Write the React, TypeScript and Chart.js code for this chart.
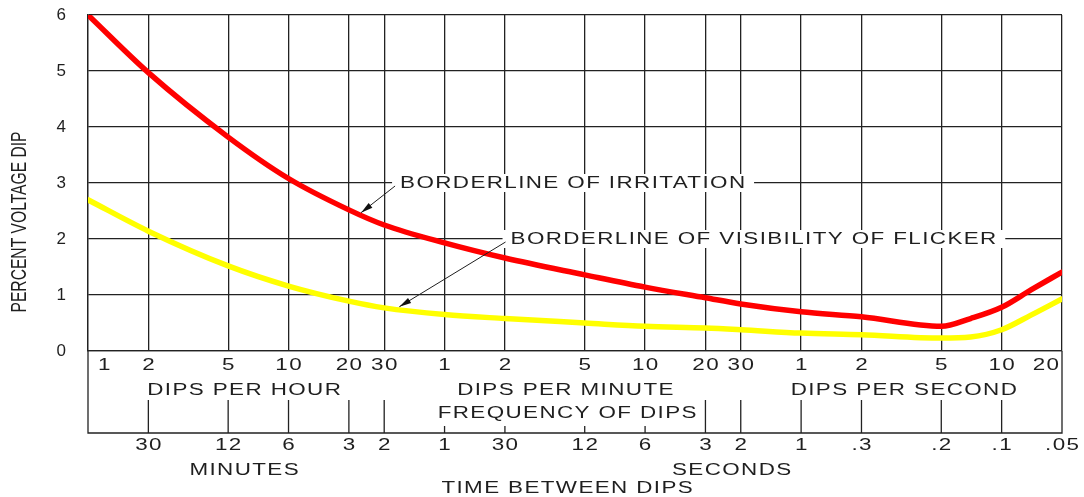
import React, { useEffect, useRef } from "react";
import { Chart, registerables } from "chart.js";

Chart.register(...registerables);

// Frequency of dips, expressed in dips per hour (log axis)
const FREQ_TICKS = [1, 2, 5, 10, 20, 30, 60, 120, 300, 600, 1200, 1800, 3600, 7200, 18000, 36000, 72000];
const FREQ_LABELS = ["1", "2", "5", "10", "20", "30", "1", "2", "5", "10", "20", "30", "1", "2", "5", "10", "20"];
const TIME_LABELS = ["", "30", "12", "6", "3", "2", "1", "30", "12", "6", "3", "2", "1", ".3", ".2", ".1", ".05"];

const CURVE_FREQ = [1, 2, 5, 10, 20, 30, 60, 120, 300, 600, 1200, 1800, 3600, 7200, 18000, 25200, 36000, 50400, 72000];
const IRRITATION = [6.0, 4.97, 3.82, 3.08, 2.52, 2.25, 1.93, 1.66, 1.36, 1.14, 0.95, 0.84, 0.7, 0.61, 0.44, 0.58, 0.78, 1.09, 1.41];
const VISIBILITY = [2.7, 2.14, 1.52, 1.16, 0.89, 0.77, 0.65, 0.58, 0.5, 0.44, 0.41, 0.38, 0.32, 0.29, 0.23, 0.25, 0.38, 0.64, 0.93];

const Y_MIN = 0;
const Y_MAX = 6;

const FREQ_GROUP_LABELS = ["DIPS PER HOUR", "DIPS PER MINUTE", "DIPS PER SECOND"];
const FREQ_GROUP_AT = [6, 240, 11700];
const TIME_GROUP_LABELS = ["MINUTES", "SECONDS"];
const TIME_GROUP_AT = [6, 1620];
const FREQ_TITLE = "FREQUENCY OF DIPS";
const TIME_TITLE = "TIME BETWEEN DIPS";
const TITLE_AT = 245;
const Y_TITLE = "PERCENT VOLTAGE DIP";

const NOTE_TEXTS = ["BORDERLINE OF IRRITATION", "BORDERLINE OF VISIBILITY OF FLICKER"];
const NOTE_AT = [[36, 3], [128, 2]];
const NOTE_TIP = [[23, 2.47], [35.7, 0.79]];

const FONT = '"Liberation Sans", Arial, sans-serif';
const INK = "#1f1f1f";
const GRID = "#222222";
const STRETCH = 1.4;
const SPACING = 1;

function wideText(ctx: CanvasRenderingContext2D, text: string, x: number, y: number, align: CanvasTextAlign) {
  ctx.save();
  ctx.translate(x, y);
  ctx.scale(STRETCH, 1);
  (ctx as any).letterSpacing = SPACING + "px";
  ctx.textAlign = align;
  ctx.textBaseline = "middle";
  const adj = align === "center" ? SPACING / 2 : align === "right" ? SPACING : 0;
  ctx.fillText(text, adj, 0);
  ctx.restore();
}

function wideWidth(ctx: CanvasRenderingContext2D, text: string) {
  ctx.save();
  (ctx as any).letterSpacing = SPACING + "px";
  const w = ctx.measureText(text).width;
  ctx.restore();
  return (w - SPACING) * STRETCH;
}

const flickerPlugin = {
  id: "flickerLayout",
  beforeDatasetsDraw(chart: any) {
    const ctx: CanvasRenderingContext2D = chart.ctx;
    const xs = chart.scales.x;
    const ys = chart.scales.y;
    ctx.save();
    ctx.font = `16px ${FONT}`;
    NOTE_TEXTS.forEach((t, i) => {
      const tx = xs.getPixelForValue(NOTE_AT[i][0]);
      const ty = ys.getPixelForValue(NOTE_AT[i][1]);
      const w = wideWidth(ctx, t);
      ctx.fillStyle = "#ffffff";
      ctx.fillRect(tx - 8, ty - 9, w + 17, 18);
      ctx.fillStyle = INK;
      wideText(ctx, t, tx, ty + 1, "left");
    });
    ctx.restore();
  },
  afterDatasetsDraw(chart: any) {
    const ctx: CanvasRenderingContext2D = chart.ctx;
    const xs = chart.scales.x;
    const ys = chart.scales.y;
    ctx.save();
    NOTE_TEXTS.forEach((_t, i) => {
      const sx = xs.getPixelForValue(NOTE_AT[i][0]) - 5;
      const sy = ys.getPixelForValue(NOTE_AT[i][1]) + 3;
      const px = xs.getPixelForValue(NOTE_TIP[i][0]);
      const py = ys.getPixelForValue(NOTE_TIP[i][1]);
      ctx.strokeStyle = INK;
      ctx.lineWidth = 1;
      ctx.beginPath();
      ctx.moveTo(sx, sy);
      ctx.lineTo(px, py);
      ctx.stroke();
      const a = Math.atan2(py - sy, px - sx);
      const L = 12;
      const W = 3;
      ctx.beginPath();
      ctx.moveTo(px, py);
      ctx.lineTo(px - L * Math.cos(a) + W * Math.sin(a), py - L * Math.sin(a) - W * Math.cos(a));
      ctx.lineTo(px - L * Math.cos(a) - W * Math.sin(a), py - L * Math.sin(a) + W * Math.cos(a));
      ctx.closePath();
      ctx.fillStyle = "#111";
      ctx.fill();
    });
    ctx.restore();
  },
  afterDraw(chart: any) {
    const ctx: CanvasRenderingContext2D = chart.ctx;
    const xs = chart.scales.x;
    const { left, right, top, bottom } = chart.chartArea;
    const boxBottom = bottom + 82;
    ctx.save();
    ctx.strokeStyle = GRID;
    ctx.lineWidth = 1.3;
    ctx.beginPath();
    ctx.moveTo(left, bottom);
    ctx.lineTo(left, boxBottom);
    ctx.lineTo(right, boxBottom);
    ctx.lineTo(right, bottom);
    ctx.stroke();

    ctx.font = `16px ${FONT}`;
    ctx.fillStyle = INK;

    // Row 1: frequency values
    const last = FREQ_TICKS.length - 1;
    FREQ_TICKS.forEach((f, i) => {
      const px = xs.getPixelForValue(f);
      if (i === 0) wideText(ctx, FREQ_LABELS[i], px + 10, bottom + 15, "left");
      else if (i === last) wideText(ctx, FREQ_LABELS[i], px - 3, bottom + 15, "right");
      else wideText(ctx, FREQ_LABELS[i], px, bottom + 15, "center");
    });
    // Row 2: group labels
    FREQ_GROUP_LABELS.forEach((t, i) => {
      wideText(ctx, t, xs.getPixelForValue(FREQ_GROUP_AT[i]), bottom + 40, "center");
    });
    // Row 3: axis title
    const cx = xs.getPixelForValue(TITLE_AT);
    wideText(ctx, FREQ_TITLE, cx, bottom + 63, "center");
    const fw = wideWidth(ctx, FREQ_TITLE);
    const fl = cx - fw / 2 - 6;
    const fr = cx + fw / 2 + 6;

    // Ticks rising from the lower line
    ctx.beginPath();
    FREQ_TICKS.forEach((f, i) => {
      if (i === 0 || i === last) return;
      const px = xs.getPixelForValue(f);
      const short = px > fl && px < fr;
      ctx.moveTo(px, boxBottom);
      ctx.lineTo(px, short ? boxBottom - 7 : bottom + 49);
    });
    ctx.stroke();

    // Time between dips labels
    FREQ_TICKS.forEach((f, i) => {
      if (!TIME_LABELS[i]) return;
      wideText(ctx, TIME_LABELS[i], xs.getPixelForValue(f), boxBottom + 13, "center");
    });
    TIME_GROUP_LABELS.forEach((t, i) => {
      wideText(ctx, t, xs.getPixelForValue(TIME_GROUP_AT[i]), boxBottom + 38, "center");
    });
    wideText(ctx, TIME_TITLE, cx, boxBottom + 56, "center");

    // Y axis title (condensed, rotated)
    ctx.font = `22px ${FONT}`;
    const tw = ctx.measureText(Y_TITLE).width;
    ctx.translate(20, top + 207);
    ctx.rotate(-Math.PI / 2);
    ctx.scale(181 / tw, 1);
    ctx.textAlign = "center";
    ctx.textBaseline = "middle";
    ctx.fillText(Y_TITLE, 0, 0);
    ctx.restore();
  },
};

export default function App() {
  const ref = useRef<HTMLCanvasElement>(null);
  useEffect(() => {
    const canvas = ref.current;
    if (!canvas) return;
    const chart = new Chart(canvas, {
      type: "line",
      data: {
        datasets: [
          {
            label: "Borderline of irritation",
            data: CURVE_FREQ.map((f, i) => ({ x: f, y: IRRITATION[i] })),
            borderColor: "#ff0000",
            borderWidth: 5.5,
            pointRadius: 0,
            cubicInterpolationMode: "monotone",
            borderCapStyle: "round",
            fill: false,
          },
          {
            label: "Borderline of visibility of flicker",
            data: CURVE_FREQ.map((f, i) => ({ x: f, y: VISIBILITY[i] })),
            borderColor: "#ffff00",
            borderWidth: 5.5,
            pointRadius: 0,
            cubicInterpolationMode: "monotone",
            borderCapStyle: "round",
            fill: false,
          },
        ],
      },
      options: {
        responsive: false,
        animation: false,
        events: [],
        layout: { padding: { top: 15, right: 22, left: 0, bottom: 0 } },
        plugins: { legend: { display: false }, tooltip: { enabled: false } },
        scales: {
          x: {
            type: "logarithmic",
            min: FREQ_TICKS[0],
            max: FREQ_TICKS[FREQ_TICKS.length - 1],
            afterBuildTicks: (s: any) => {
              s.ticks = FREQ_TICKS.map((v) => ({ value: v }));
            },
            afterFit: (s: any) => {
              s.height = 146;
              s.paddingLeft = 0;
              s.paddingRight = 0;
            },
            ticks: { display: false },
            grid: { color: GRID, lineWidth: 1.3, drawTicks: false },
            border: { display: true, color: GRID, width: 1.3 },
          },
          y: {
            min: Y_MIN,
            max: Y_MAX,
            ticks: {
              stepSize: 1,
              padding: 22,
              color: INK,
              font: { family: FONT, size: 17 },
            },
            afterFit: (s: any) => {
              s.width = 88;
              s.paddingTop = 0;
              s.paddingBottom = 0;
            },
            grid: { color: GRID, lineWidth: 1.3, drawTicks: false },
            border: { display: true, color: GRID, width: 1.3 },
          },
        },
      },
      plugins: [flickerPlugin],
    } as any);
    return () => chart.destroy();
  }, []);
  return (
    <div style={{ position: "fixed", left: 0, top: 0, width: 1084, height: 497, background: "#fff" }}>
      <canvas ref={ref} width={1084} height={497} style={{ display: "block", width: 1084, height: 497 }} />
    </div>
  );
}
